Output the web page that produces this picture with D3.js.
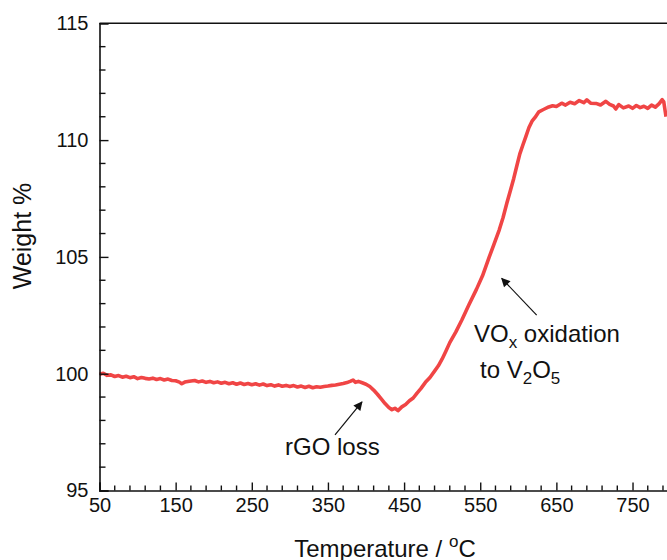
<!DOCTYPE html>
<html><head><meta charset="utf-8">
<script src="https://cdn.jsdelivr.net/npm/d3@7"></script>
<style>body{margin:0;background:#fff}svg{display:block}text{font-family:"Liberation Sans",Arial,sans-serif;fill:#111}</style>
</head><body>
<svg id="c" width="667" height="560"></svg>
<script>
const temperature = [50,55,60,65,70,75,80,85,90,95,100,105,110,115,120,125,130,135,140,145,150,155,158,162,168,175,180,185,190,195,200,205,210,215,220,225,230,235,240,245,250,255,260,265,270,275,280,285,290,295,300,305,310,315,320,325,330,335,340,345,350,355,360,365,370,375,380,383,386,390,395,400,405,410,415,420,425,430,434,438,442,447,452,457,462,467,472,478,484,490,495,500,505,510,518,526,535,545,553,562,568,575,580,585,590,594,598,602,606,610,614,618,622,627,633,640,645,650,657,662,668,674,680,686,690,695,702,708,715,720,725,728,732,738,745,750,755,760,765,770,775,780,785,789,791,794];
const weight = [99.98,100.02,99.93,99.95,99.88,99.92,99.85,99.89,99.83,99.87,99.79,99.84,99.80,99.77,99.81,99.75,99.79,99.73,99.77,99.71,99.70,99.64,99.57,99.64,99.68,99.71,99.65,99.69,99.63,99.67,99.61,99.65,99.59,99.63,99.57,99.61,99.55,99.60,99.54,99.58,99.53,99.57,99.51,99.56,99.49,99.53,99.47,99.52,99.46,99.50,99.45,99.49,99.43,99.47,99.41,99.46,99.40,99.44,99.42,99.45,99.47,99.50,99.52,99.55,99.58,99.62,99.68,99.73,99.63,99.67,99.61,99.55,99.45,99.30,99.12,98.92,98.72,98.55,98.46,98.52,98.42,98.58,98.68,98.84,98.96,99.17,99.36,99.63,99.84,100.11,100.34,100.63,100.97,101.33,101.79,102.31,102.94,103.61,104.19,105.01,105.54,106.16,106.69,107.31,107.89,108.36,108.89,109.41,109.79,110.16,110.54,110.81,110.97,111.21,111.31,111.42,111.47,111.44,111.58,111.50,111.62,111.56,111.69,111.60,111.72,111.58,111.57,111.50,111.66,111.53,111.46,111.33,111.52,111.38,111.46,111.36,111.48,111.39,111.45,111.36,111.50,111.41,111.56,111.73,111.64,111.00];
const xTickLabels = [50,150,250,350,450,550,650,750];
const yTickLabels = [95,100,105,110,115];

const svg = d3.select("#c");
const x = d3.scaleLinear().domain([50,800]).range([99.5,670.6]);
const y = d3.scaleLinear().domain([95,115]).range([490.5,23.3]);

// data line
const line = d3.line().x((d,i)=>x(temperature[i])).y((d,i)=>y(weight[i]));
svg.append("path").datum(weight).attr("d",line).attr("fill","none")
  .attr("stroke","#f04545").attr("stroke-width",3.6).attr("stroke-linejoin","round");

// frame top line
svg.append("line").attr("x1",x(50)).attr("x2",x(800)).attr("y1",y(115)).attr("y2",y(115))
  .attr("stroke","#111").attr("stroke-width",1.6);

// x axis
const xMinor = d3.range(50,801,20).filter(v=>(v-50)%100!==0);
const gx = svg.append("g").attr("transform",`translate(0,${y(95)})`);
gx.call(d3.axisBottom(x).tickValues(xTickLabels).tickSize(-8).tickFormat(d3.format("d")));
gx.append("g").selectAll("line").data(xMinor).join("line")
  .attr("x1",d=>x(d)).attr("x2",d=>x(d)).attr("y1",0).attr("y2",-5).attr("stroke","#111").attr("stroke-width",1.4);
gx.select(".domain").attr("stroke","#111").attr("stroke-width",1.6);
gx.selectAll(".tick line").attr("stroke","#111").attr("stroke-width",1.4);
gx.selectAll(".tick text").attr("font-size",20).attr("dy","0.71em").attr("y",7);

// y axis
const yMinor = d3.range(95,115.1,1).filter(v=>v%5!==0);
const gy = svg.append("g").attr("transform",`translate(${x(50)},0)`);
gy.call(d3.axisLeft(y).tickValues(yTickLabels).tickSize(-9).tickFormat(d3.format("d")));
gy.append("g").selectAll("line").data(yMinor).join("line")
  .attr("x1",0).attr("x2",6).attr("y1",d=>y(d)).attr("y2",d=>y(d)).attr("stroke","#111").attr("stroke-width",1.4);
gy.select(".domain").attr("stroke","#111").attr("stroke-width",1.6);
gy.selectAll(".tick line").attr("stroke","#111").attr("stroke-width",1.4);
gy.selectAll(".tick text").attr("font-size",20).attr("x",-11);

// axis titles
svg.append("text").attr("transform","translate(31,236) rotate(-90)").attr("text-anchor","middle")
  .attr("font-size",25).text("Weight %");
const xt = svg.append("text").attr("x",385).attr("y",557).attr("text-anchor","middle").attr("font-size",24);
xt.append("tspan").text("Temperature / ");
xt.append("tspan").attr("font-size",17).attr("dy",-10).text("o");
xt.append("tspan").attr("dy",10).text("C");

// annotations
const defs = svg.append("defs");
defs.append("marker").attr("id","ah").attr("viewBox","0 0 10 10").attr("refX",9).attr("refY",5)
  .attr("markerWidth",12).attr("markerHeight",9).attr("markerUnits","userSpaceOnUse").attr("orient","auto")
  .append("path").attr("d","M0,0 L10,5 L0,10 z").attr("fill","#111");

svg.append("line").attr("x1",x(359.3)).attr("y1",y(97.38)).attr("x2",x(394.7)).attr("y2",y(98.79))
  .attr("stroke","#111").attr("stroke-width",1.2).attr("marker-end","url(#ah)");
svg.append("text").attr("x",285).attr("y",455).attr("font-size",24).text("rGO loss");

svg.append("line").attr("x1",x(624.1)).attr("y1",y(102.51)).attr("x2",x(578.2)).attr("y2",y(104.08))
  .attr("stroke","#111").attr("stroke-width",1.2).attr("marker-end","url(#ah)");
const t1 = svg.append("text").attr("x",474).attr("y",342).attr("font-size",24);
t1.append("tspan").text("VO");
t1.append("tspan").attr("font-size",17).attr("dy",6).text("x");
t1.append("tspan").attr("dy",-6).text(" oxidation");
const t2 = svg.append("text").attr("x",480).attr("y",378).attr("font-size",24);
t2.append("tspan").text("to V");
t2.append("tspan").attr("font-size",17).attr("dy",6).text("2");
t2.append("tspan").attr("dy",-6).text("O");
t2.append("tspan").attr("font-size",17).attr("dy",6).text("5");
</script>
</body></html>
